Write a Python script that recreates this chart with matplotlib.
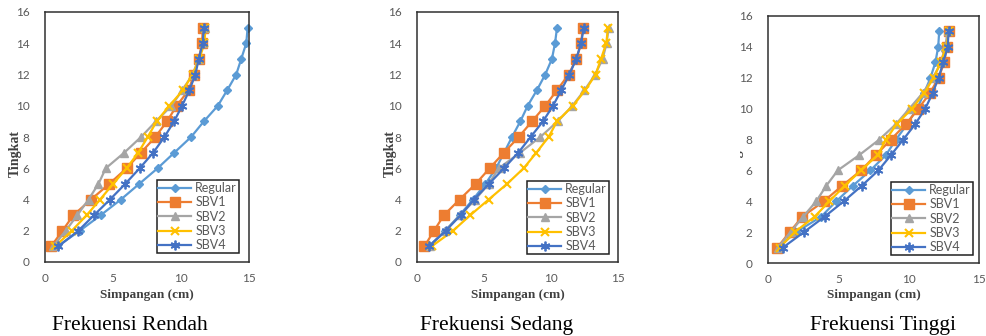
import matplotlib
matplotlib.use("Agg")
import matplotlib.pyplot as plt
from matplotlib.patches import Rectangle

floors = list(range(1, 16))
series_names = ["Regular", "SBV1", "SBV2", "SBV3", "SBV4"]
panel_titles = ["Frekuensi Rendah", "Frekuensi Sedang", "Frekuensi Tinggi"]
x_ticks = [0, 5, 10, 15]
y_ticks = [0, 2, 4, 6, 8, 10, 12, 14, 16]
x_label = "Simpangan (cm)"
y_label = "Tingkat"

rendah_regular = [0.91, 2.56, 4.1, 5.58, 6.93, 8.28, 9.51, 10.74, 11.68, 12.71, 13.4, 14.06, 14.43, 14.8, 14.9]
rendah_sbv1 = [0.45, 1.28, 2.09, 3.39, 4.72, 6.0, 7.06, 8.11, 8.97, 9.68, 10.57, 10.95, 11.31, 11.55, 11.6]
rendah_sbv2 = [0.6, 1.52, 2.38, 3.2, 3.93, 4.47, 5.83, 7.06, 8.16, 9.3, 10.1, 10.85, 11.3, 11.65, 11.74]
rendah_sbv3 = [0.74, 1.97, 3.07, 4.05, 5.01, 6.0, 6.86, 7.55, 8.21, 9.14, 10.15, 10.85, 11.35, 11.72, 11.8]
rendah_sbv4 = [0.98, 2.45, 3.61, 4.78, 5.9, 6.96, 7.96, 8.78, 9.49, 10.08, 10.62, 11.06, 11.3, 11.6, 11.67]

sedang_regular = [0.87, 2.11, 3.18, 4.18, 5.1, 5.9, 6.5, 7.09, 7.71, 8.26, 8.95, 9.57, 10.07, 10.3, 10.45]
sedang_sbv1 = [0.55, 1.27, 2.01, 3.18, 4.38, 5.42, 6.49, 7.59, 8.58, 9.58, 10.45, 11.32, 11.89, 12.26, 12.36]
sedang_sbv2 = [0.95, 2.11, 3.23, 4.35, 5.35, 6.1, 7.7, 9.2, 10.5, 11.6, 12.5, 13.3, 13.85, 14.15, 14.3]
sedang_sbv3 = [1.09, 2.69, 3.98, 5.35, 6.72, 7.96, 8.91, 9.82, 10.45, 11.64, 12.56, 13.33, 13.73, 14.13, 14.25]
sedang_sbv4 = [0.89, 2.14, 3.26, 4.25, 5.37, 6.49, 7.56, 8.48, 9.4, 10.15, 10.77, 11.37, 11.89, 12.24, 12.45]

tinggi_regular = [0.7, 2.0, 3.78, 4.85, 6.03, 7.28, 8.39, 9.1, 9.9, 10.6, 11.1, 11.55, 11.9, 12.1, 12.17]
tinggi_sbv1 = [0.66, 1.54, 2.44, 3.97, 5.27, 6.62, 7.68, 8.74, 9.81, 10.69, 11.51, 12.13, 12.53, 12.7, 12.84]
tinggi_sbv2 = [0.7, 1.6, 2.5, 3.43, 4.14, 4.96, 6.5, 7.92, 9.1, 10.05, 10.99, 11.75, 12.29, 12.6, 12.77]
tinggi_sbv3 = [0.83, 1.9, 3.31, 4.37, 5.44, 6.62, 7.8, 8.39, 9.15, 10.24, 11.11, 11.77, 12.29, 12.65, 12.88]
tinggi_sbv4 = [1.06, 2.55, 4.02, 5.39, 6.66, 7.85, 8.75, 9.62, 10.47, 11.18, 11.7, 12.13, 12.46, 12.77, 12.84]

panels_data = [
    [rendah_regular, rendah_sbv1, rendah_sbv2, rendah_sbv3, rendah_sbv4],
    [sedang_regular, sedang_sbv1, sedang_sbv2, sedang_sbv3, sedang_sbv4],
    [tinggi_regular, tinggi_sbv1, tinggi_sbv2, tinggi_sbv3, tinggi_sbv4],
]

colors = ["#5B9BD5", "#ED7D31", "#A5A5A5", "#FFC000", "#4472C4"]
markers = ["D", "s", "^", "x", (6, 2, 0)]
msizes = [4.5, 7, 6, 6, 7]
mews = [1, 1, 1, 1.5, 1.3]

W, H = 987, 336
fig = plt.figure(figsize=(W / 100, H / 100), dpi=100)

# axes boxes in pixels: left, right, top, bottom
boxes = [(45, 249, 12, 262), (417, 618, 12, 262), (768, 979, 16, 263)]
legend_anchor = [(239, 253), (609, 254), (973, 255)]
ylabel_x = [15, 390, 737]
caption_x = [130, 497, 883]

tick_font = "Lato"
for i, (l, r, t, b) in enumerate(boxes):
    ax = fig.add_axes([l / W, (H - b) / H, (r - l) / W, (b - t) / H])
    for j, name in enumerate(series_names):
        ax.plot(panels_data[i][j], floors, color=colors[j], marker=markers[j],
                markersize=msizes[j], markeredgewidth=mews[j], lw=1.6,
                label=name, clip_on=False)
    ax.set_xlim(0, 15)
    ax.set_ylim(0, 16)
    ax.set_xticks(x_ticks)
    ax.set_yticks(y_ticks)
    ax.tick_params(length=0, labelsize=8.5, labelcolor="#595959")
    ax.tick_params(axis="x", pad=8)
    ax.tick_params(axis="y", pad=11)
    for lab in ax.get_xticklabels() + ax.get_yticklabels():
        lab.set_fontfamily(tick_font)
    for s in ax.spines.values():
        s.set_color("#303030")
        s.set_linewidth(1.1)
    lx, ly = legend_anchor[i]
    leg = ax.legend(loc="lower right",
                    bbox_to_anchor=((lx - l) / (r - l), (b - ly) / (b - t)),
                    borderaxespad=0, fancybox=False, framealpha=1,
                    edgecolor="#202020", prop={"family": tick_font, "size": 9},
                    handlelength=2.6, handletextpad=0.35, labelspacing=0.18,
                    borderpad=0.15)
    leg.get_frame().set_linewidth(1.1)
    for txt in leg.get_texts():
        txt.set_color("#595959")
    # axis titles
    fig.text(((l + r) / 2) / W, (H - 295) / H, x_label, ha="center", va="center",
             family="Liberation Serif", weight="bold", size=9.5, color="#404040")
    fig.text(ylabel_x[i] / W, (H - 153) / H, y_label, ha="center", va="center",
             rotation=90, family="Liberation Serif", weight="bold", size=10,
             color="#404040")
    fig.text(caption_x[i] / W, (H - 330) / H, panel_titles[i], ha="center",
             va="baseline", family="Liberation Serif", size=15.5, color="black")

# the third panel's y title is partly hidden in the reference
fig.add_artist(Rectangle((700 / W, 60 / H), 40 / W, 200 / H, transform=fig.transFigure,
                         facecolor="white", edgecolor="none", zorder=10))

fig.savefig("out.png", dpi=100)
